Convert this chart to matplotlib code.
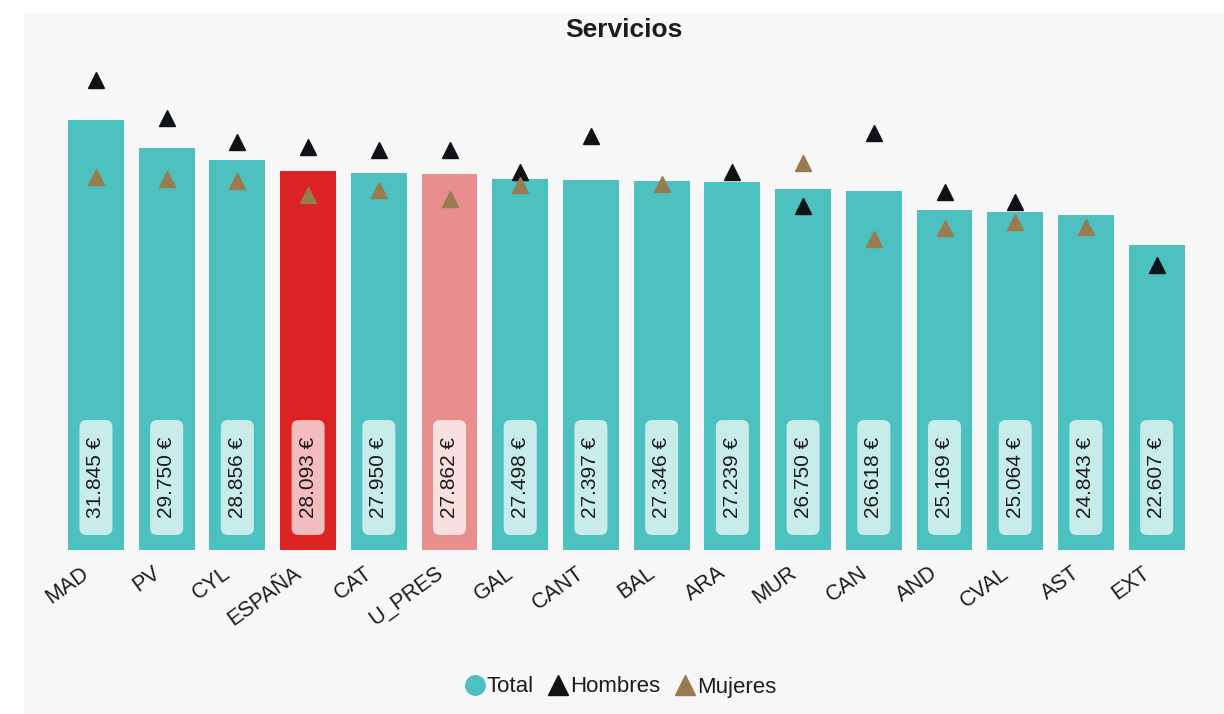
import matplotlib
matplotlib.use("Agg")
import matplotlib.pyplot as plt
import matplotlib.transforms as mtransforms
from matplotlib.lines import Line2D
from matplotlib.patches import FancyBboxPatch, Rectangle
import numpy as np

plt.rcParams["font.family"] = ["Liberation Sans", "DejaVu Sans"]

# Values (EUR / year)
regions = ["MAD", "PV", "CYL", "ESPAÑA", "CAT", "U_PRES", "GAL", "CANT",
           "BAL", "ARA", "MUR", "CAN", "AND", "CVAL", "AST", "EXT"]
total = [31845, 29750, 28856, 28093, 27950, 27862, 27498, 27397,
         27346, 27239, 26750, 26618, 25169, 25064, 24843, 22607]
hombres = [34840, 31970, 30210, 29870, 29600, 29660, 27980, 30650,
           np.nan, 28010, 25450, 30870, 26500, 25770, np.nan, 21130]
mujeres = [27620, 27450, 27330, 26290, 26660, 26030, 27050, np.nan,
           27080, np.nan, 28680, 23070, 23880, 24290, 23940, np.nan]

TEAL = "#4dc1bf"
BAR_COLORS = {"ESPAÑA": "#dc2324", "U_PRES": "#e88e8d"}
BOX_COLORS = {"ESPAÑA": "#f4bcbc", "U_PRES": "#f9dfdf"}
BOX_DEFAULT = "#c8ecea"
HOMBRES_COLOR = "#0f1216"
MUJERES_COLOR = "#9a7b4f"
TEXT_COLOR = "#1c1c1c"

fig = plt.figure(figsize=(12.24, 7.14), dpi=100, facecolor="white")
fig.patches.append(Rectangle((24 / 1224, 0), 1, (714 - 13) / 714,
                             transform=fig.transFigure, facecolor="#f7f7f7",
                             edgecolor="none", zorder=-10))

ax = fig.add_axes([60.6 / 1224, 164 / 714, 1131.4 / 1224, 513 / 714])
ax.set_facecolor("none")

x = np.arange(len(regions))
colors = [BAR_COLORS.get(r, TEAL) for r in regions]
ax.bar(x, total, width=0.79, color=colors, zorder=2)

ax.plot(x, hombres, linestyle="none", marker="^", markersize=11,
        color=HOMBRES_COLOR, zorder=4)
ax.plot(x, mujeres, linestyle="none", marker="^", markersize=11,
        color=MUJERES_COLOR, zorder=4)

ax.set_xlim(-0.5, len(regions) - 0.5)
ax.set_ylim(0, 38000)

# rounded label boxes: aspect converts y data units to x data units
box_w, box_y0, box_y1 = 0.467, 1111, 9627
aspect = (38000 / 513) / (len(regions) / 1131.4)
for xi, r, v in zip(x, regions, total):
    ax.add_patch(FancyBboxPatch(
        (xi - box_w / 2, box_y0), box_w, box_y1 - box_y0,
        boxstyle="round,pad=0,rounding_size=0.1", mutation_aspect=aspect,
        facecolor=BOX_COLORS.get(r, BOX_DEFAULT), edgecolor="none", zorder=3))
    ax.text(xi, (box_y0 + box_y1) / 2, f"{v:,} €".replace(",", "."),
            rotation=90, ha="center", va="center", fontsize=15,
            color=TEXT_COLOR, zorder=5)

ax.set_xticks(x)
ax.set_xticklabels(regions, rotation=36, ha="right", va="top",
                   rotation_mode="anchor", fontsize=15.5, color=TEXT_COLOR)
ax.tick_params(axis="x", length=0, pad=9)
offset = mtransforms.ScaledTranslation(-15 / 100, 0, fig.dpi_scale_trans)
for lbl in ax.get_xticklabels():
    lbl.set_transform(lbl.get_transform() + offset)
ax.set_yticks([])
for s in ax.spines.values():
    s.set_visible(False)

fig.text(624 / 1224, 1 - 30 / 714, "Servicios", ha="center", va="center",
         fontsize=19, fontweight="bold", color=TEXT_COLOR)

handles = [
    Line2D([], [], linestyle="none", marker="o", markersize=14, color=TEAL),
    Line2D([], [], linestyle="none", marker="^", markersize=14, color=HOMBRES_COLOR),
    Line2D([], [], linestyle="none", marker="^", markersize=14, color=MUJERES_COLOR),
]
fig.legend(handles, ["Total", "Hombres", "Mujeres"], loc="center",
           bbox_to_anchor=(620 / 1224, 1 - 687 / 714), ncol=3, frameon=False,
           fontsize=16, handletextpad=0.05, columnspacing=0.6,
           handlelength=1.0, labelcolor=TEXT_COLOR)

fig.savefig("out.png", dpi=100, facecolor="white")
